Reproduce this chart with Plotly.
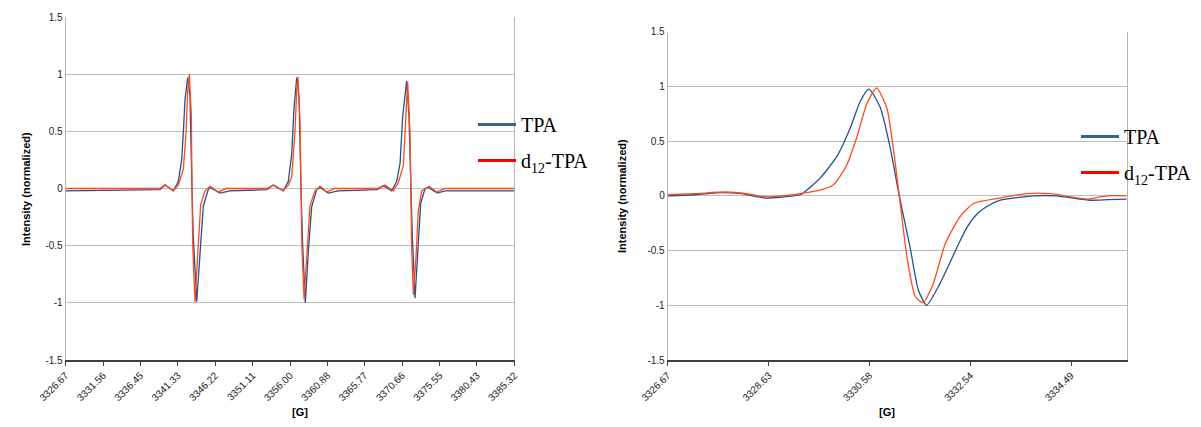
import plotly.graph_objects as go

# ---------------- data ----------------
# left panel: full spectrum (three lines)
wide_tpa_x = [3326.67, 3339.0, 3339.65, 3340.74, 3341.39, 3341.83, 3342.05, 3342.27, 3342.62, 3342.92,
              3343.18, 3343.35, 3343.80, 3344.23, 3344.66, 3345.31, 3345.54, 3346.84, 3348.15,
              3353.0, 3353.81, 3355.12, 3355.77, 3356.22, 3356.52, 3356.87, 3357.17, 3357.43, 3357.65,
              3358.0, 3358.39, 3358.83, 3359.49, 3359.92, 3361.0, 3362.3,
              3367.4, 3368.19, 3369.29, 3369.94, 3370.38, 3370.73, 3371.25, 3371.55, 3371.78, 3371.99,
              3372.34, 3372.69, 3373.08, 3373.65, 3374.08, 3375.25, 3376.26, 3385.32]
wide_tpa_y = [-0.02, -0.01, 0.03, -0.02, 0.06, 0.25, 0.49, 0.78, 0.97, 0.81,
              0.0, -0.42, -0.99, -0.53, -0.155, -0.01, 0.01, -0.04, -0.02,
              -0.01, 0.03, -0.02, 0.06, 0.30, 0.70, 0.97, 0.80, 0.0, -0.5,
              -1.0, -0.55, -0.16, -0.01, 0.01, -0.04, -0.02,
              -0.01, 0.025, -0.02, 0.06, 0.22, 0.63, 0.94, 0.63, 0.0, -0.42,
              -0.96, -0.53, -0.13, 0.0, 0.01, -0.04, -0.02, -0.02]

wide_d12_x = [3326.67, 3339.0, 3339.65, 3340.74, 3341.39, 3342.05, 3342.40, 3342.62, 3342.84, 3343.10,
              3343.18, 3343.28, 3343.57, 3344.01, 3344.32, 3344.88, 3345.54, 3346.62, 3347.7,
              3353.0, 3353.81, 3355.12, 3355.77, 3356.22, 3356.65, 3356.87, 3357.04, 3357.30, 3357.43,
              3357.55, 3357.83, 3358.26, 3358.61, 3359.26, 3359.92, 3360.79, 3361.9,
              3367.4, 3368.41, 3369.50, 3370.15, 3370.81, 3371.16, 3371.38, 3371.68, 3371.78, 3371.90,
              3372.12, 3372.47, 3372.77, 3373.21, 3374.21, 3375.17, 3376.26, 3385.32]
wide_d12_y = [0.0, 0.0, 0.035, -0.02, 0.03, 0.17, 0.49, 0.85, 1.0, 0.63,
              0.0, -0.5, -0.99, -0.48, -0.14, -0.02, 0.02, -0.03, 0.0,
              0.0, 0.03, -0.02, 0.03, 0.10, 0.50, 0.85, 0.98, 0.60, 0.0,
              -0.5, -0.97, -0.5, -0.15, -0.02, 0.02, -0.03, 0.0,
              0.0, 0.03, -0.02, 0.05, 0.20, 0.70, 0.93, 0.5, 0.0, -0.5,
              -0.93, -0.6, -0.2, -0.02, 0.02, -0.03, 0.0, 0.0]

# right panel: zoom on first line
zoom_tpa_x = [3326.67, 3327.2, 3327.7, 3328.1, 3328.55, 3328.9, 3329.24, 3329.62, 3329.95, 3330.21,
              3330.40, 3330.57, 3330.79, 3330.98, 3331.16, 3331.37, 3331.53, 3331.69, 3331.95, 3332.28,
              3332.47, 3332.66, 3332.85, 3333.12, 3333.76, 3334.2, 3334.87, 3335.2, 3335.57]
zoom_tpa_y = [0.0, 0.01, 0.03, 0.02, -0.02, -0.01, 0.01, 0.16, 0.36, 0.62,
              0.86, 0.975, 0.81, 0.45, 0.0, -0.47, -0.86, -1.0, -0.80, -0.47,
              -0.29, -0.17, -0.10, -0.04, 0.0, 0.0, -0.04, -0.035, -0.03]

zoom_d12_x = [3326.67, 3327.2, 3327.8, 3328.2, 3328.6, 3328.9, 3329.24, 3329.6, 3329.88, 3330.14,
              3330.34, 3330.53, 3330.72, 3330.92, 3331.04, 3331.16, 3331.31, 3331.47, 3331.62, 3331.82,
              3332.05, 3332.34, 3332.60, 3333.12, 3333.63, 3334.1, 3334.8, 3335.2, 3335.57]
zoom_d12_y = [0.01, 0.02, 0.035, 0.02, -0.01, 0.0, 0.02, 0.05, 0.10, 0.28,
              0.54, 0.84, 0.987, 0.80, 0.45, 0.0, -0.56, -0.92, -0.975, -0.80,
              -0.44, -0.19, -0.07, -0.02, 0.02, 0.02, -0.03, 0.0, 0.0]

left_ticks = [3326.67, 3331.56, 3336.45, 3341.33, 3346.22, 3351.11, 3356.00, 3360.88,
              3365.77, 3370.66, 3375.55, 3380.43, 3385.32]
right_ticks = [3326.67, 3328.63, 3330.58, 3332.54, 3334.49]
y_ticks = [-1.5, -1, -0.5, 0, 0.5, 1, 1.5]
series_names = ["TPA", "d<sub>12</sub>-TPA"]

# ---------------- style ----------------
W, H = 1201, 427
BLUE = "#24508F"
RED = "#FF4A1C"
LEG_BLUE = "#3A6196"
LEG_RED = "#FF0000"
SANS = "Liberation Sans, Arial, sans-serif"
SERIF = "Liberation Serif, Times New Roman, serif"

def px_x(p):
    return p / W

def px_y(p):
    return 1 - p / H

fig = go.Figure()

fig.add_trace(go.Scatter(x=wide_tpa_x, y=wide_tpa_y, mode="lines", xaxis="x", yaxis="y",
                         line=dict(color=BLUE, width=1.3), showlegend=False))
fig.add_trace(go.Scatter(x=wide_d12_x, y=wide_d12_y, mode="lines", xaxis="x", yaxis="y",
                         line=dict(color=RED, width=1.3), showlegend=False))
fig.add_trace(go.Scatter(x=zoom_tpa_x, y=zoom_tpa_y, mode="lines", xaxis="x2", yaxis="y2",
                         line=dict(color=BLUE, width=1.3, shape="spline", smoothing=0.6),
                         showlegend=False))
fig.add_trace(go.Scatter(x=zoom_d12_x, y=zoom_d12_y, mode="lines", xaxis="x2", yaxis="y2",
                         line=dict(color=RED, width=1.3, shape="spline", smoothing=0.6),
                         showlegend=False))

# legend entries
for lg, xa, ya in (("legend", "x", "y"), ("legend2", "x2", "y2")):
    for i, (nm, col) in enumerate(zip(series_names, [LEG_BLUE, LEG_RED])):
        fig.add_trace(go.Scatter(x=[None], y=[None], mode="lines", xaxis=xa, yaxis=ya,
                                 name=nm, legend=lg, legendgroup=lg + str(i),
                                 line=dict(color=col, width=3), showlegend=True))

yaxis_common = dict(range=[-1.5, 1.5], tickvals=y_ticks, ticktext=["-1.5", "-1", "-0.5", "0", "0.5", "1", "1.5"],
                    showgrid=True, gridcolor="#BDBDBD", gridwidth=1, zeroline=False,
                    showline=True, linecolor="#B5B5B5", linewidth=1, mirror=True, automargin=False,
                    ticks="", tickfont=dict(family=SANS, size=10, color="#222222"))
xaxis_common = dict(showgrid=False, zeroline=False, showline=True, linecolor="#404040", linewidth=1.5,
                    ticks="outside", ticklen=4, tickcolor="#404040", tickwidth=1, tickangle=-45,
                    automargin=False, tickfont=dict(family=SANS, size=10, color="#222222"))

legend_common = dict(xanchor="left", yanchor="top", bgcolor="rgba(0,0,0,0)", borderwidth=0,
                     tracegroupgap=7, itemwidth=38,
                     font=dict(family=SERIF, size=20, color="black"))

fig.update_layout(
    width=W, height=H,
    margin=dict(l=0, r=0, t=0, b=0, autoexpand=False),
    paper_bgcolor="white", plot_bgcolor="white",
    xaxis=dict(domain=[px_x(65.7), px_x(514.3)], range=[left_ticks[0], left_ticks[-1]],
               tickvals=left_ticks, ticktext=[f"{v:.2f}" for v in left_ticks],
               anchor="y", **xaxis_common),
    yaxis=dict(domain=[px_y(360), px_y(17)], anchor="x", **yaxis_common),
    xaxis2=dict(domain=[px_x(667.7), px_x(1126.7)], range=[3326.67, 3335.57],
                tickvals=right_ticks, ticktext=[f"{v:.2f}" for v in right_ticks],
                anchor="y2", **xaxis_common),
    yaxis2=dict(domain=[px_y(360), px_y(31.7)], anchor="x2", **yaxis_common),
    legend=dict(x=px_x(473), y=px_y(105), **legend_common),
    legend2=dict(x=px_x(1076), y=px_y(117), **legend_common),
    annotations=[
        dict(text="<b>Intensity (normalized)</b>", x=px_x(18), y=px_y(189), xref="paper", yref="paper",
             textangle=-90, showarrow=False, font=dict(family=SANS, size=11, color="black")),
        dict(text="<b>Intensity (normalized)</b>", x=px_x(622), y=px_y(196), xref="paper", yref="paper",
             textangle=-90, showarrow=False, font=dict(family=SANS, size=11, color="black")),
        dict(text="<b>[G]</b>", x=px_x(290), y=px_y(420), xref="paper", yref="paper",
             showarrow=False, font=dict(family=SANS, size=11, color="black")),
        dict(text="<b>[G]</b>", x=px_x(897), y=px_y(420), xref="paper", yref="paper",
             showarrow=False, font=dict(family=SANS, size=11, color="black")),
    ],
)

fig.write_html("out.html")
